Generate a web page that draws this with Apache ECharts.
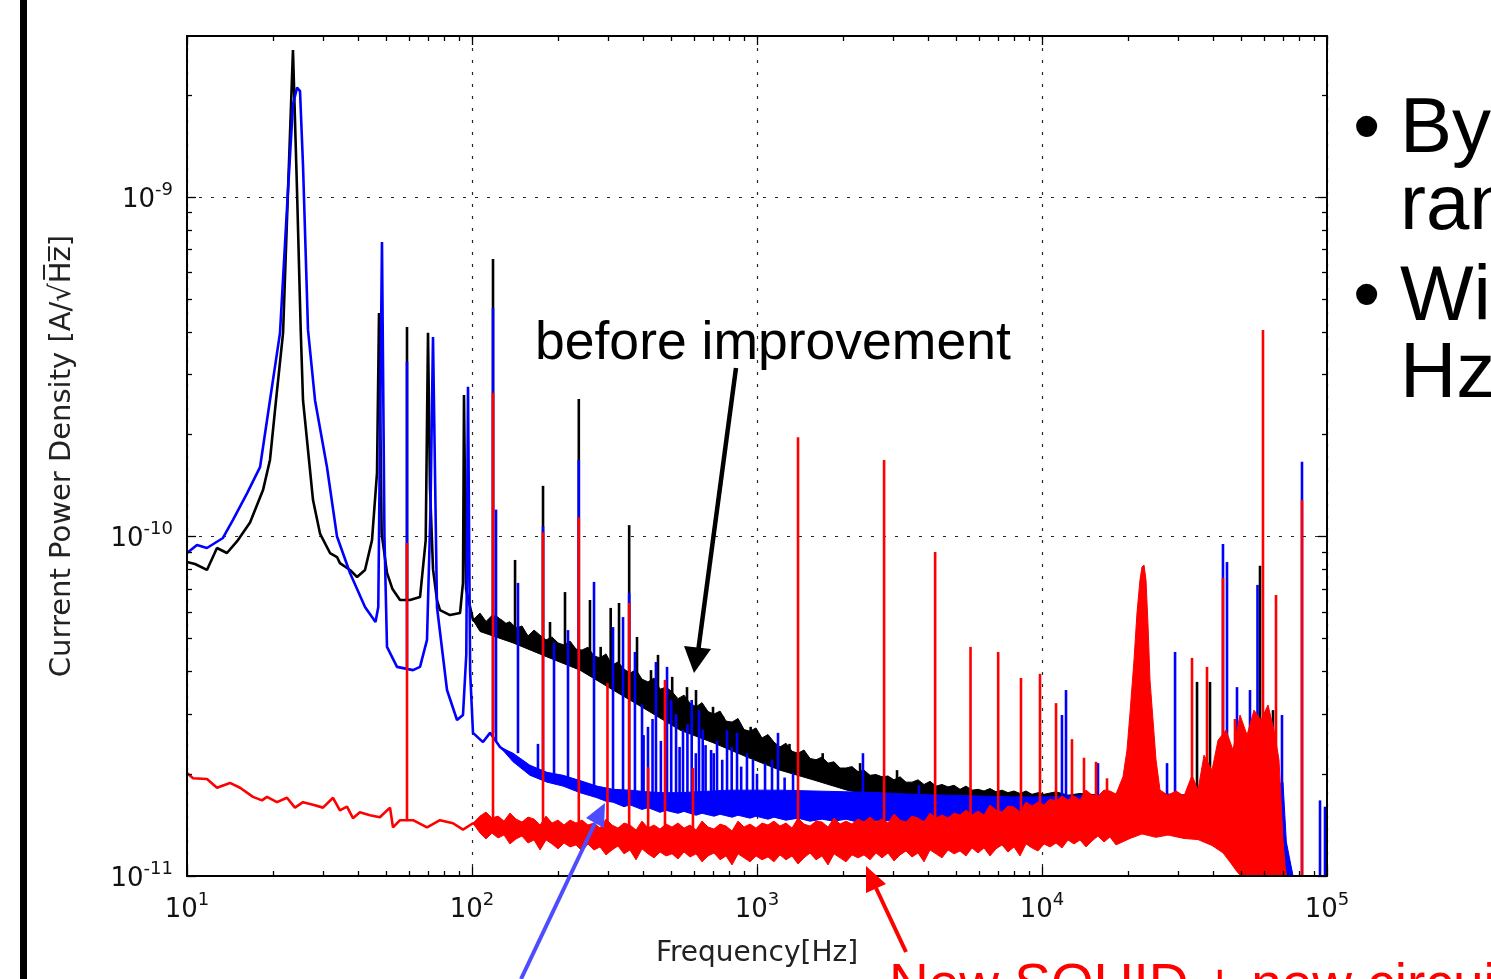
<!DOCTYPE html>
<html>
<head>
<meta charset="utf-8">
<script src="https://cdn.jsdelivr.net/npm/echarts@6.0.0/dist/echarts.min.js"></script>
<style>
html, body { margin: 0; padding: 0; background: #fff; }
#chart { width: 1491px; height: 979px; }
</style>
</head>
<body>
<div id="chart"></div>
<script>
// ---- data: [frequency Hz, A/sqrt(Hz)] ----
const xDecades = [10, 100, 1000, 10000, 100000];
const yDecades = [1e-11, 1e-10, 1e-9];

// before improvement (black)
const blackTrace = [
  [10, 8.41e-11], [10.67, 8.30e-11], [11.75, 7.97e-11], [12.74, 9.25e-11], [13.81, 8.94e-11],
  [15.10, 9.76e-11], [16.64, 1.10e-10], [18.48, 1.37e-10], [19.55, 1.68e-10], [20.53, 2.52e-10],
  [21.73, 3.98e-10], [22.62, 1.05e-9], [23.54, 2.71e-9], [24.32, 1.05e-9], [25.06, 4.06e-10],
  [25.53, 2.52e-10], [27.68, 1.28e-10], [29.29, 1.02e-10], [31.75, 8.94e-11], [33.60, 8.70e-11],
  [34.40, 8.35e-11], [37.32, 7.97e-11], [39.50, 7.60e-11], [42.13, 7.97e-11], [44.58, 9.76e-11],
  [46.42, 1.54e-10], [47.18, 4.55e-10], [48.20, 1.02e-10], [50.32, 7.81e-11], [52.6, 7.0e-11],
  [55.90, 6.50e-11], [60.60, 6.50e-11], [65.71, 6.63e-11], [68.8, 9.76e-11], [70.09, 3.98e-10],
  [71.2, 1.40e-10], [73.0, 8.0e-11], [75.36, 6.50e-11], [77.21, 6.07e-11], [83.72, 5.87e-11],
  [90.78, 5.95e-11], [92.98, 7.30e-11], [93.74, 2.61e-10], [95.3, 7.0e-11], [100.8, 5.68e-11],
  [112.9, 5.30e-11], [115.7, 5.41e-11], [125.4, 5.68e-11], [139.3, 5.30e-11], [159.7, 5.06e-11],
  [183.3, 4.86e-11], [208.6, 4.63e-11], [239.3, 4.42e-11], [274.5, 4.13e-11], [312.5, 3.86e-11],
  [358.4, 3.60e-11], [411.2, 3.37e-11], [468, 3.23e-11], [536.8, 3.02e-11], [615.8, 2.88e-11],
  [700.9, 2.75e-11], [803.9, 2.57e-11], [922.5, 2.47e-11], [1050, 2.35e-11], [1204, 2.20e-11],
  [1382, 2.09e-11], [1572, 2.01e-11], [2069, 1.92e-11], [2702, 1.83e-11], [3527, 1.77e-11],
  [4642, 1.73e-11], [6060, 1.71e-11], [10000, 1.70e-11], [20000, 1.70e-11], [33000, 1.68e-11],
  [45000, 1.60e-11], [55000, 1.50e-11], [65000, 1.35e-11], [72000, 1.15e-11], [75000, 1.02e-11]
];
const blackBandTop = [
  [100.8, 5.68e-11], [106.7, 5.95e-11], [112.0, 5.62e-11], [117.5, 5.85e-11], [123.4, 5.79e-11],
  [129.5, 5.52e-11], [135.9, 5.61e-11], [142.7, 5.38e-11], [149.8, 5.45e-11], [157.2, 5.09e-11],
  [165.1, 5.30e-11], [173.3, 5.12e-11], [181.9, 4.96e-11], [190.9, 5.06e-11], [200.4, 4.86e-11],
  [210.3, 4.79e-11], [220.8, 4.92e-11], [231.7, 4.66e-11], [243.2, 4.63e-11], [255.3, 4.72e-11],
  [268.0, 4.45e-11], [281.3, 4.39e-11], [295.3, 4.51e-11], [309.9, 4.18e-11], [325.3, 4.27e-11],
  [341.5, 4.07e-11], [358.4, 3.96e-11], [376.3, 4.05e-11], [394.9, 3.80e-11], [414.6, 3.73e-11],
  [435.2, 3.83e-11], [456.8, 3.55e-11], [479.5, 3.60e-11], [503.3, 3.49e-11], [528.3, 3.33e-11],
  [554.6, 3.41e-11], [582.1, 3.23e-11], [611.1, 3.15e-11], [641.4, 3.24e-11], [673.3, 3.05e-11],
  [706.7, 3.00e-11], [741.9, 3.06e-11], [778.7, 2.86e-11], [817.4, 2.84e-11], [858.0, 2.91e-11],
  [900.7, 2.70e-11], [945.4, 2.67e-11], [992.0, 2.73e-11], [1041, 2.55e-11], [1093, 2.61e-11],
  [1147, 2.48e-11], [1204, 2.40e-11], [1264, 2.46e-11], [1327, 2.33e-11], [1393, 2.30e-11],
  [1462, 2.35e-11], [1535, 2.22e-11], [1611, 2.20e-11], [1691, 2.24e-11], [1775, 2.15e-11],
  [1863, 2.17e-11], [1956, 2.08e-11], [2053, 2.08e-11], [2154, 2.10e-11], [2262, 2.03e-11],
  [2374, 2.05e-11], [2492, 1.98e-11], [2616, 1.99e-11], [2746, 1.96e-11], [2882, 1.97e-11],
  [3025, 1.92e-11], [3176, 1.96e-11], [3333, 1.89e-11], [3499, 1.89e-11], [3673, 1.92e-11],
  [3855, 1.86e-11], [4047, 1.90e-11], [4248, 1.84e-11], [4459, 1.86e-11], [4680, 1.83e-11],
  [4913, 1.85e-11], [5157, 1.80e-11], [5412, 1.84e-11], [5681, 1.79e-11], [5963, 1.80e-11],
  [6259, 1.78e-11], [6570, 1.81e-11], [6897, 1.77e-11], [7239, 1.79e-11], [7599, 1.76e-11],
  [7976, 1.78e-11], [8372, 1.75e-11], [8788, 1.78e-11], [9224, 1.74e-11], [9682, 1.76e-11],
  [10163, 1.74e-11], [11198, 1.77e-11], [12337, 1.73e-11], [13594, 1.75e-11], [15980, 1.73e-11],
  [33060, 1.73e-11]
];
const blackBandBottom = [
  [100.8, 5.68e-11], [106.7, 5.25e-11], [139.3, 4.86e-11], [183.3, 4.42e-11], [239.3, 4.04e-11],
  [312.5, 3.53e-11], [411.2, 3.08e-11], [536.8, 2.69e-11], [700.9, 2.47e-11], [922.5, 2.24e-11],
  [1204, 2.05e-11], [1572, 1.92e-11], [2069, 1.79e-11], [2702, 1.71e-11], [4642, 1.64e-11],
  [10000, 1.61e-11], [33060, 1.61e-11]
];
// [frequency, foot, top]
const blackSpikes = [
  [59.15, 6.5e-11, 4.14e-10], [118.5, 5.5e-11, 6.57e-10], [141.6, 5.3e-11, 8.53e-11],
  [177.5, 4.9e-11, 1.41e-10], [187.8, 4.9e-11, 5.60e-11], [212, 4.7e-11, 6.86e-11],
  [237, 4.4e-11, 2.54e-10], [259.4, 4.3e-11, 6.50e-11], [282.8, 4.1e-11, 4.73e-11],
  [306.6, 3.9e-11, 6.16e-11], [328, 3.8e-11, 6.37e-11], [356, 3.6e-11, 1.08e-10],
  [379.3, 3.5e-11, 5.06e-11], [424.7, 3.3e-11, 4.04e-11], [449.4, 3.3e-11, 4.48e-11],
  [504, 3.1e-11, 3.86e-11], [568.1, 3.0e-11, 3.60e-11], [610.9, 2.9e-11, 3.53e-11],
  [700.9, 2.8e-11, 3.15e-11], [760, 2.6e-11, 2.95e-11], [830, 2.5e-11, 2.85e-11],
  [950, 2.4e-11, 2.75e-11], [1100, 2.3e-11, 2.55e-11], [1300, 2.2e-11, 2.45e-11],
  [1700, 2.05e-11, 2.30e-11], [2300, 1.95e-11, 2.15e-11], [3100, 1.85e-11, 2.05e-11],
  [34990, 1.6e-11, 3.73e-11], [38860, 1.6e-11, 3.73e-11], [58200, 1.5e-11, 8.2e-11],
  [64650, 1.4e-11, 3.08e-11]
];

// intermediate stage (blue)
const blueTrace = [
  [10, 8.94e-11], [10.84, 9.44e-11], [11.75, 9.25e-11], [13.37, 9.90e-11], [14.50, 1.12e-10],
  [16.24, 1.34e-10], [18.04, 1.60e-10], [19.55, 2.52e-10], [21.20, 3.98e-10], [22.62, 1.05e-9],
  [23.54, 1.87e-9], [24.32, 2.10e-9], [24.92, 2.05e-9], [25.53, 1.24e-9], [26.58, 4.06e-10],
  [28.13, 2.52e-10], [30.99, 1.60e-10], [33.60, 1.0e-10], [37.32, 7.81e-11], [42.13, 6.20e-11],
  [45.86, 5.60e-11], [46.90, 6.20e-11], [48.32, 7.37e-10], [49.3, 1.0e-10], [50.32, 4.73e-11],
  [54.56, 4.13e-11], [62.10, 4.04e-11], [65.71, 4.13e-11], [69.52, 4.96e-11], [71.5, 1.20e-10],
  [72.97, 3.87e-10], [75.36, 6.20e-11], [81.71, 3.53e-11], [88.60, 2.88e-11], [92.98, 2.98e-11],
  [95.5, 4.50e-11], [96.82, 2.76e-10], [98.5, 4.0e-11], [100.8, 2.64e-11], [109.3, 2.48e-11],
  [115.7, 2.64e-11], [125.4, 2.40e-11], [139.3, 2.24e-11], [159.7, 2.05e-11], [183.3, 1.96e-11],
  [208.6, 1.92e-11], [239.3, 1.83e-11], [274.5, 1.77e-11], [312.5, 1.71e-11], [358.4, 1.70e-11],
  [411.2, 1.65e-11], [536.8, 1.64e-11], [922.5, 1.62e-11], [2702, 1.60e-11], [10000, 1.64e-11],
  [20000, 1.62e-11], [40000, 1.58e-11], [60000, 1.45e-11], [68000, 1.30e-11], [71000, 1.12e-11],
  [74000, 1.02e-11]
];
const blueBandTop = [
  [125.4, 2.40e-11], [139.3, 2.30e-11], [159.7, 2.12e-11], [183.3, 2.02e-11], [208.6, 1.98e-11],
  [239.3, 1.91e-11], [274.5, 1.84e-11], [312.5, 1.80e-11], [358.4, 1.79e-11], [411.2, 1.77e-11],
  [468, 1.76e-11], [536.8, 1.76e-11], [615.8, 1.77e-11], [700.9, 1.78e-11], [803.9, 1.79e-11],
  [922.5, 1.79e-11], [1050, 1.79e-11], [1204, 1.79e-11], [1572, 1.78e-11], [2069, 1.77e-11],
  [2702, 1.76e-11], [3527, 1.74e-11], [4642, 1.73e-11], [6060, 1.72e-11], [7912, 1.71e-11],
  [10000, 1.71e-11], [12540, 1.72e-11], [15980, 1.73e-11], [22000, 1.76e-11], [33060, 1.73e-11],
  [48330, 1.73e-11], [63100, 1.79e-11], [70070, 1.89e-11], [72000, 1.26e-11], [74170, 1.11e-11],
  [76000, 1.0e-11]
];
const blueBandBottom = [
  [125.4, 2.40e-11], [139.3, 2.17e-11], [159.7, 1.98e-11], [183.3, 1.89e-11], [208.6, 1.84e-11],
  [239.3, 1.76e-11], [274.5, 1.70e-11], [295.3, 1.66e-11], [312.5, 1.65e-11], [341.5, 1.60e-11],
  [358.4, 1.62e-11], [394.9, 1.57e-11], [414.6, 1.59e-11], [456.8, 1.54e-11], [479.5, 1.56e-11],
  [528.3, 1.53e-11], [554.6, 1.55e-11], [611.1, 1.51e-11], [641.4, 1.53e-11], [706.7, 1.50e-11],
  [741.9, 1.52e-11], [817.4, 1.49e-11], [858.0, 1.51e-11], [945.4, 1.48e-11], [992.0, 1.50e-11],
  [1093, 1.47e-11], [1147, 1.49e-11], [1264, 1.46e-11], [1393, 1.48e-11], [1535, 1.45e-11],
  [1691, 1.47e-11], [1863, 1.45e-11], [2053, 1.47e-11], [2262, 1.44e-11], [2492, 1.46e-11],
  [2746, 1.45e-11], [3025, 1.46e-11], [3333, 1.44e-11], [3673, 1.46e-11], [4047, 1.45e-11],
  [4459, 1.47e-11], [4913, 1.45e-11], [5412, 1.47e-11], [5963, 1.46e-11], [6570, 1.48e-11],
  [7239, 1.46e-11], [7976, 1.48e-11], [8788, 1.47e-11], [9682, 1.49e-11], [10668, 1.47e-11],
  [12540, 1.46e-11], [15980, 1.43e-11], [22000, 1.38e-11], [33060, 1.37e-11], [48330, 1.23e-11],
  [63100, 1.11e-11], [68400, 1.0e-11]
];
const blueSpikes = [
  [59.15, 4.13e-11, 3.27e-10], [118.5, 2.64e-11, 4.71e-10], [121.4, 2.50e-11, 1.20e-10],
  [145, 2.30e-11, 7.30e-11], [170.4, 2.05e-11, 2.45e-11], [177.5, 2.0e-11, 1.07e-10],
  [194, 1.95e-11, 4.86e-11], [217.2, 1.9e-11, 5.30e-11], [237, 1.85e-11, 1.68e-10],
  [268, 1.8e-11, 7.35e-11], [312.5, 1.72e-11, 5.41e-11], [338.8, 1.7e-11, 5.79e-11],
  [356, 1.7e-11, 6.82e-11], [373, 1.7e-11, 4.57e-11], [395, 1.68e-11, 3.2e-11],
  [400, 1.66e-11, 2.6e-11], [414.5, 1.66e-11, 2.75e-11], [430, 1.66e-11, 2.9e-11],
  [442, 1.65e-11, 4.27e-11], [460, 1.65e-11, 2.5e-11], [483.4, 1.65e-11, 4.13e-11],
  [500, 1.65e-11, 3.3e-11], [520, 1.65e-11, 3.0e-11], [535, 1.64e-11, 2.4e-11],
  [550, 1.64e-11, 2.69e-11], [570, 1.64e-11, 2.8e-11], [590, 1.64e-11, 3.3e-11],
  [610, 1.64e-11, 2.3e-11], [626, 1.64e-11, 3.08e-11], [645, 1.63e-11, 2.7e-11],
  [660, 1.63e-11, 2.43e-11], [690, 1.63e-11, 2.35e-11], [705, 1.63e-11, 2.3e-11],
  [724, 1.63e-11, 2.50e-11], [755, 1.63e-11, 2.2e-11], [785, 1.63e-11, 2.69e-11],
  [815, 1.62e-11, 2.4e-11], [851, 1.62e-11, 2.64e-11], [880, 1.62e-11, 2.1e-11],
  [922, 1.62e-11, 2.30e-11], [968, 1.62e-11, 2.20e-11], [1000, 1.62e-11, 2.0e-11],
  [1067, 1.62e-11, 2.15e-11], [1129, 1.62e-11, 2.20e-11], [1185, 1.62e-11, 2.64e-11],
  [1250, 1.62e-11, 1.95e-11], [1338, 1.62e-11, 2.01e-11], [2354, 1.6e-11, 2.30e-11],
  [3700, 1.6e-11, 1.85e-11], [11750, 1.64e-11, 2.98e-11], [12140, 1.64e-11, 3.53e-11],
  [15720, 1.65e-11, 2.15e-11], [27460, 1.6e-11, 2.15e-11], [29300, 1.6e-11, 4.57e-11],
  [43150, 1.58e-11, 9.50e-11], [44580, 1.58e-11, 8.41e-11], [48330, 1.55e-11, 3.60e-11],
  [53680, 1.52e-11, 3.53e-11], [57040, 1.5e-11, 7.20e-11], [69510, 1.2e-11, 2.98e-11],
  [81710, 1.0e-11, 1.66e-10], [94510, 1.0e-11, 1.67e-11], [98400, 1.0e-11, 1.60e-11]
];

// new SQUID + new circuit (red)
const redTrace = [
  [10, 2.01e-11], [10.50, 1.94e-11], [11.75, 1.93e-11], [12.74, 1.82e-11], [14.15, 1.88e-11],
  [15.35, 1.82e-11], [17.04, 1.71e-11], [18.33, 1.67e-11], [19.08, 1.71e-11], [20.69, 1.65e-11],
  [22.43, 1.70e-11], [23.92, 1.59e-11], [25.53, 1.65e-11], [27.68, 1.62e-11], [30.00, 1.59e-11],
  [32.53, 1.70e-11], [34.40, 1.56e-11], [36.42, 1.60e-11], [38.22, 1.48e-11], [40.40, 1.54e-11],
  [43.86, 1.51e-11], [47.50, 1.49e-11], [51.56, 1.59e-11], [52.83, 1.39e-11], [55.90, 1.46e-11],
  [62.10, 1.46e-11], [69.52, 1.39e-11], [77.21, 1.46e-11], [85.77, 1.43e-11], [92.98, 1.37e-11],
  [100.8, 1.43e-11], [109.3, 1.39e-11], [125.4, 1.40e-11], [183.3, 1.33e-11], [274.5, 1.31e-11],
  [411.2, 1.28e-11], [700.9, 1.26e-11], [1204, 1.26e-11], [2069, 1.28e-11], [3527, 1.32e-11],
  [6060, 1.38e-11], [10000, 1.44e-11], [15980, 1.52e-11], [25950, 1.55e-11], [40000, 1.5e-11],
  [55000, 1.3e-11], [68000, 1.2e-11], [71780, 1.0e-11]
];
const redBandTop = [
  [100.8, 1.43e-11], [106.7, 1.501e-11], [112.0, 1.543e-11], [117.5, 1.481e-11], [123.4, 1.501e-11],
  [129.5, 1.451e-11], [135.9, 1.532e-11], [142.7, 1.471e-11], [149.8, 1.442e-11], [157.2, 1.491e-11],
  [165.1, 1.471e-11], [173.3, 1.413e-11], [181.9, 1.501e-11], [190.9, 1.432e-11], [200.4, 1.461e-11],
  [210.3, 1.413e-11], [220.8, 1.461e-11], [231.7, 1.432e-11], [243.2, 1.461e-11], [255.3, 1.413e-11],
  [268.0, 1.432e-11], [281.3, 1.384e-11], [295.3, 1.471e-11], [309.9, 1.413e-11], [325.3, 1.384e-11],
  [341.5, 1.432e-11], [358.4, 1.413e-11], [376.3, 1.366e-11], [394.9, 1.451e-11], [414.6, 1.384e-11],
  [435.2, 1.413e-11], [456.8, 1.375e-11], [479.5, 1.422e-11], [503.3, 1.394e-11], [528.3, 1.432e-11],
  [554.6, 1.384e-11], [582.1, 1.413e-11], [611.1, 1.366e-11], [641.4, 1.451e-11], [673.3, 1.394e-11],
  [706.7, 1.375e-11], [741.9, 1.422e-11], [778.7, 1.403e-11], [817.4, 1.357e-11], [858.0, 1.451e-11],
  [900.7, 1.394e-11], [945.4, 1.422e-11], [992.0, 1.384e-11], [1041, 1.432e-11], [1093, 1.413e-11],
  [1147, 1.451e-11], [1204, 1.403e-11], [1264, 1.432e-11], [1327, 1.384e-11], [1393, 1.481e-11],
  [1462, 1.422e-11], [1535, 1.403e-11], [1611, 1.451e-11], [1691, 1.442e-11], [1775, 1.394e-11],
  [1863, 1.481e-11], [1956, 1.422e-11], [2053, 1.451e-11], [2154, 1.422e-11], [2262, 1.471e-11],
  [2374, 1.442e-11], [2492, 1.491e-11], [2616, 1.442e-11], [2746, 1.471e-11], [2882, 1.432e-11],
  [3025, 1.522e-11], [3176, 1.461e-11], [3333, 1.442e-11], [3499, 1.501e-11], [3673, 1.481e-11],
  [3855, 1.442e-11], [4047, 1.532e-11], [4248, 1.481e-11], [4459, 1.512e-11], [4680, 1.481e-11],
  [4913, 1.532e-11], [5157, 1.512e-11], [5412, 1.564e-11], [5681, 1.512e-11], [5963, 1.553e-11],
  [6259, 1.512e-11], [6570, 1.618e-11], [6897, 1.564e-11], [7239, 1.543e-11], [7599, 1.607e-11],
  [7976, 1.596e-11], [8372, 1.543e-11], [8788, 1.651e-11], [9224, 1.607e-11], [9682, 1.651e-11],
  [10163, 1.618e-11], [10668, 1.685e-11], [11198, 1.662e-11], [11754, 1.719e-11], [12337, 1.673e-11],
  [12950, 1.719e-11], [13594, 1.673e-11], [14269, 1.791e-11], [14977, 1.731e-11], [15721, 1.719e-11],
  [16502, 1.791e-11], [17321, 1.779e-11], [18181, 1.743e-11], [19240, 1.96e-11], [19870, 2.35e-11],
  [20360, 3.02e-11], [21030, 4.33e-11], [21540, 5.95e-11], [22070, 7.44e-11], [22430, 8.13e-11],
  [22800, 8.24e-11], [23170, 7.44e-11], [23550, 5.49e-11], [23930, 3.78e-11], [24520, 2.88e-11],
  [25120, 2.20e-11], [25950, 1.79e-11], [27680, 1.73e-11], [29530, 1.78e-11], [31500, 1.72e-11],
  [33600, 1.98e-11], [35270, 1.79e-11], [37020, 2.27e-11], [39500, 2.05e-11], [41460, 2.51e-11],
  [44220, 2.69e-11], [46790, 2.35e-11], [49530, 2.98e-11], [52410, 2.60e-11], [55450, 3.08e-11],
  [58670, 2.88e-11], [62090, 3.19e-11], [65170, 2.69e-11], [67850, 2.20e-11], [70070, 1.28e-11],
  [71780, 1.0e-11]
];
const redBandBottom = [
  [100.8, 1.43e-11], [106.7, 1.338e-11], [112.0, 1.286e-11], [117.5, 1.338e-11], [123.4, 1.294e-11],
  [129.5, 1.321e-11], [135.9, 1.243e-11], [142.7, 1.286e-11], [149.8, 1.312e-11], [157.2, 1.251e-11],
  [165.1, 1.277e-11], [173.3, 1.193e-11], [181.9, 1.277e-11], [190.9, 1.243e-11], [200.4, 1.202e-11],
  [210.3, 1.251e-11], [220.8, 1.218e-11], [231.7, 1.235e-11], [243.2, 1.185e-11], [255.3, 1.243e-11],
  [268.0, 1.193e-11], [281.3, 1.218e-11], [295.3, 1.154e-11], [309.9, 1.193e-11], [325.3, 1.226e-11],
  [341.5, 1.162e-11], [358.4, 1.193e-11], [376.3, 1.116e-11], [394.9, 1.202e-11], [414.6, 1.162e-11],
  [435.2, 1.131e-11], [456.8, 1.177e-11], [479.5, 1.146e-11], [503.3, 1.162e-11], [528.3, 1.123e-11],
  [554.6, 1.177e-11], [582.1, 1.138e-11], [611.1, 1.162e-11], [641.4, 1.101e-11], [673.3, 1.146e-11],
  [706.7, 1.169e-11], [741.9, 1.116e-11], [778.7, 1.146e-11], [817.4, 1.078e-11], [858.0, 1.162e-11],
  [900.7, 1.131e-11], [945.4, 1.101e-11], [992.0, 1.146e-11], [1041, 1.116e-11], [1093, 1.138e-11],
  [1147, 1.101e-11], [1204, 1.154e-11], [1264, 1.116e-11], [1327, 1.146e-11], [1393, 1.085e-11],
  [1462, 1.131e-11], [1535, 1.169e-11], [1611, 1.116e-11], [1691, 1.146e-11], [1775, 1.078e-11],
  [1863, 1.162e-11], [1956, 1.131e-11], [2053, 1.101e-11], [2154, 1.154e-11], [2262, 1.131e-11],
  [2374, 1.154e-11], [2492, 1.116e-11], [2616, 1.169e-11], [2746, 1.131e-11], [2882, 1.169e-11],
  [3025, 1.108e-11], [3176, 1.154e-11], [3333, 1.185e-11], [3499, 1.138e-11], [3673, 1.169e-11],
  [3855, 1.101e-11], [4047, 1.193e-11], [4248, 1.162e-11], [4459, 1.131e-11], [4680, 1.193e-11],
  [4913, 1.162e-11], [5157, 1.185e-11], [5412, 1.146e-11], [5681, 1.210e-11], [5963, 1.169e-11],
  [6259, 1.210e-11], [6570, 1.146e-11], [6897, 1.202e-11], [7239, 1.235e-11], [7599, 1.177e-11],
  [7976, 1.218e-11], [8372, 1.146e-11], [8788, 1.243e-11], [9224, 1.210e-11], [9682, 1.185e-11],
  [10163, 1.243e-11], [10668, 1.218e-11], [11198, 1.251e-11], [11754, 1.210e-11], [12337, 1.277e-11],
  [12950, 1.243e-11], [13594, 1.277e-11], [14269, 1.218e-11], [14977, 1.268e-11], [15721, 1.312e-11],
  [16502, 1.260e-11], [17321, 1.303e-11], [18181, 1.235e-11], [20360, 1.29e-11], [22430, 1.33e-11],
  [25120, 1.30e-11], [27680, 1.32e-11], [31500, 1.29e-11], [35270, 1.28e-11], [39500, 1.23e-11],
  [43150, 1.17e-11], [45650, 1.10e-11], [48330, 1.03e-11], [49930, 1.0e-11]
];
const redSpikes = [
  [59.15, 1.46e-11, 9.57e-11], [118.5, 1.43e-11, 2.65e-10], [177.5, 1.40e-11, 1.03e-10],
  [237, 1.38e-11, 1.14e-10], [298.8, 1.36e-11, 3.70e-11], [356, 1.35e-11, 6.37e-11],
  [415, 1.33e-11, 2.09e-11], [475.5, 1.32e-11, 3.78e-11], [596, 1.30e-11, 2.08e-11],
  [1393, 1.3e-11, 1.96e-10], [2792, 1.3e-11, 1.68e-10], [4217, 1.35e-11, 9.00e-11],
  [5613, 1.38e-11, 4.73e-11], [7018, 1.4e-11, 4.57e-11], [8437, 1.42e-11, 3.83e-11],
  [9840, 1.44e-11, 3.94e-11], [11200, 1.46e-11, 3.23e-11], [12740, 1.48e-11, 2.53e-11],
  [14040, 1.5e-11, 2.23e-11], [15470, 1.5e-11, 2.17e-11], [16910, 1.52e-11, 1.94e-11],
  [33600, 1.5e-11, 4.39e-11], [37930, 1.5e-11, 4.13e-11], [43150, 1.4e-11, 7.55e-11],
  [47550, 1.3e-11, 2.9e-11], [59620, 1.0e-11, 4.06e-10], [66230, 1.0e-11, 6.73e-11],
  [81710, 1.0e-11, 1.28e-10]
];

// ---- helpers ----
const tickFont = 'DejaVu Sans';
const slideFont = '"Liberation Sans", Arial, sans-serif';

// minor log ticks 2..9 inside each decade
const xMinor = [];
xDecades.slice(0, -1).forEach(d => { for (let m = 2; m <= 9; m++) xMinor.push(m * d); });
const yMinor = [];
yDecades.forEach(d => { for (let m = 2; m <= 9; m++) if (m * d < 2.98e-9) yMinor.push(m * d); });

function decadeLabel(v) {
  const e = Math.round(Math.log10(v));
  return '{b|10}{s|' + (e < 0 ? '-' + (-e) : e) + '}';
}
const labelRich = {
  b: { fontSize: 26, fontFamily: tickFont, color: '#111', lineHeight: 32, verticalAlign: 'bottom' },
  s: { fontSize: 18, fontFamily: tickFont, color: '#111', lineHeight: 17, verticalAlign: 'top' }
};

function bandSeries(top, bottom, color, z) {
  const ring = top.concat(bottom.slice().reverse());
  return {
    type: 'custom', z: z, data: [ring[0]], clip: true, silent: true,
    renderItem: (params, api) => ({
      type: 'polygon',
      shape: { points: ring.map(p => api.coord(p)) },
      style: { fill: color, stroke: color, lineWidth: 1 }
    })
  };
}
function traceSeries(data, color, z) {
  return {
    type: 'line', z: z, data: data, showSymbol: false, silent: true, clip: true,
    lineStyle: { color: color, width: 2.6 }, itemStyle: { color: color }
  };
}
function spikeSeries(data, color, z) {
  return {
    type: 'custom', z: z, data: data, clip: true, silent: true,
    encode: { x: 0, y: [1, 2] },
    renderItem: (params, api) => {
      const a = api.coord([api.value(0), api.value(1)]);
      const b = api.coord([api.value(0), api.value(2)]);
      return { type: 'line', shape: { x1: a[0], y1: a[1], x2: b[0], y2: b[1] },
               style: { stroke: color, lineWidth: 2.6 } };
    }
  };
}

function xAxisCfg(pos, ticks, len, extra) {
  return Object.assign({
    type: 'log', logBase: 10, min: 10, max: 100000, splitNumber: 4, position: pos, z: 8,
    axisLine: { show: false, onZero: false },
    axisTick: { show: true, inside: true, length: len, customValues: ticks, lineStyle: { color: '#000', width: 1.3 } },
    axisLabel: { show: false }, splitLine: { show: false }, minorTick: { show: false }
  }, extra || {});
}
function yAxisCfg(pos, ticks, len, extra) {
  return Object.assign({
    type: 'log', logBase: 10, min: 1e-11, max: 2.98e-9, splitNumber: 3, position: pos, z: 8,
    axisLine: { show: false, onZero: false },
    axisTick: { show: true, inside: true, length: len, customValues: ticks, lineStyle: { color: '#000', width: 1.3 } },
    axisLabel: { show: false }, splitLine: { show: false }, minorTick: { show: false }
  }, extra || {});
}
const frameLine = { show: true, onZero: false, lineStyle: { color: '#000', width: 2 } };
const gridLine = { show: true, lineStyle: { color: '#000', width: 1.2, type: [3, 9], opacity: 0.85 } };

const chart = echarts.init(document.getElementById('chart'));
chart.setOption({
  animation: false,
  backgroundColor: '#fff',
  textStyle: { fontFamily: tickFont },
  grid: { left: 187, right: 164, top: 36, bottom: 103 },
  xAxis: [
    xAxisCfg('bottom', xDecades, 9, {
      axisLine: frameLine,
      axisLabel: { show: true, customValues: xDecades, formatter: decadeLabel, rich: labelRich, margin: 15 },
      name: 'Frequency[Hz]', nameLocation: 'middle', nameGap: 64,
      nameTextStyle: { fontSize: 28, fontFamily: tickFont, color: '#222' }
    }),
    xAxisCfg('bottom', xMinor, 5),
    xAxisCfg('top', xDecades, 9, { axisLine: frameLine }),
    xAxisCfg('top', xMinor, 5),
    xAxisCfg('bottom', [], 0, { z: 0, axisTick: { show: false }, splitLine: gridLine })
  ],
  yAxis: [
    yAxisCfg('left', yDecades, 9, {
      axisLine: frameLine,
      axisLabel: { show: true, customValues: yDecades, formatter: decadeLabel, rich: labelRich, margin: 14 },
      name: 'Current Power Density [A/\u221AH\u0305z\u0305]', nameLocation: 'middle', nameGap: 110,
      nameTextStyle: { fontSize: 29, fontFamily: tickFont, color: '#222' }
    }),
    yAxisCfg('left', yMinor, 5),
    yAxisCfg('right', yDecades, 9, { axisLine: frameLine }),
    yAxisCfg('right', yMinor, 5),
    yAxisCfg('left', [], 0, { z: 0, axisTick: { show: false }, splitLine: gridLine })
  ],
  series: [
    bandSeries(blackBandTop, blackBandBottom, '#000', 2),
    traceSeries(blackTrace, '#000', 2),
    spikeSeries(blackSpikes, '#000', 2),
    bandSeries(blueBandTop, blueBandBottom, '#0000ff', 3),
    traceSeries(blueTrace, '#0000ff', 3),
    spikeSeries(blueSpikes, '#0000ff', 3),
    bandSeries(redBandTop, redBandBottom, '#ff0000', 4),
    traceSeries(redTrace, '#ff0000', 4),
    spikeSeries(redSpikes, '#ff0000', 4)
  ],
  graphic: [
    // slide edge bar
    { type: 'rect', z: 100, shape: { x: 20, y: 0, width: 7, height: 979 }, style: { fill: '#000' } },
    // annotation: before improvement
    { type: 'text', z: 100, x: 535, y: 344,
      style: { text: 'before improvement', font: '53.5px ' + slideFont, fill: '#000', verticalAlign: 'middle' } },
    { type: 'line', z: 100, shape: { x1: 736, y1: 368, x2: 698, y2: 652 }, style: { stroke: '#000', lineWidth: 4.5 } },
    { type: 'polygon', z: 100, shape: { points: [[694, 673], [684, 646], [711, 649]] }, style: { fill: '#000' } },
    // blue arrow
    { type: 'line', z: 100, shape: { x1: 595, y1: 823, x2: 521, y2: 979 }, style: { stroke: '#4d4dff', lineWidth: 4 } },
    { type: 'polygon', z: 100, shape: { points: [[605, 803], [586, 818], [604, 828]] }, style: { fill: '#4d4dff' } },
    // red arrow
    { type: 'line', z: 100, shape: { x1: 876, y1: 888, x2: 906, y2: 952 }, style: { stroke: '#ff0000', lineWidth: 4 } },
    { type: 'polygon', z: 100, shape: { points: [[866, 866], [886, 884], [866, 893]] }, style: { fill: '#ff0000' } },
    { type: 'text', z: 100, x: 889, y: 987,
      style: { text: 'New SQUID + new circuit', font: '55px ' + slideFont, fill: '#ff0000', verticalAlign: 'middle' } },
    // slide bullet text at right
    { type: 'text', z: 100, x: 1353, y: 130, style: { text: '\u2022', font: '78px ' + slideFont, fill: '#000', verticalAlign: 'middle' } },
    { type: 'text', z: 100, x: 1400, y: 130, style: { text: 'By', font: '78px ' + slideFont, fill: '#000', verticalAlign: 'middle' } },
    { type: 'text', z: 100, x: 1400, y: 207, style: { text: 'ran', font: '78px ' + slideFont, fill: '#000', verticalAlign: 'middle' } },
    { type: 'text', z: 100, x: 1353, y: 298, style: { text: '\u2022', font: '78px ' + slideFont, fill: '#000', verticalAlign: 'middle' } },
    { type: 'text', z: 100, x: 1400, y: 298, style: { text: 'Wi', font: '78px ' + slideFont, fill: '#000', verticalAlign: 'middle' } },
    { type: 'text', z: 100, x: 1400, y: 375, style: { text: 'Hz', font: '78px ' + slideFont, fill: '#000', verticalAlign: 'middle' } }
  ]
});
</script>
</body>
</html>
